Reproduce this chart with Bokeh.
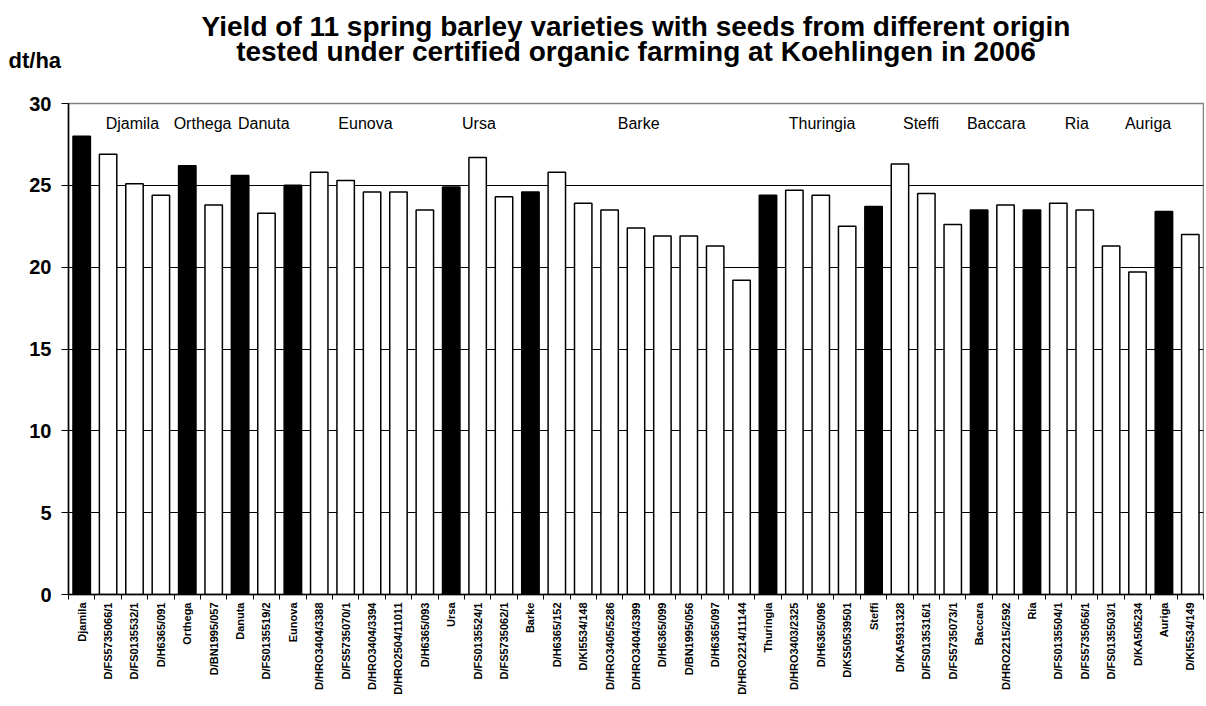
from bokeh.plotting import figure
from bokeh.models import ColumnDataSource, FixedTicker, Range1d, LabelSet, Title
from bokeh.core.properties import value
from bokeh.embed import file_html
from bokeh.resources import INLINE

categories = ["Djamila", "D/FS5735066/1", "D/FS0135532/1", "D/H6365/091", "Orthega",
              "D/BN1995/057", "Danuta", "D/FS0135519/2", "Eunova", "D/HRO3404/3388",
              "D/FS5735070/1", "D/HRO3404/3394", "D/HRO2504/11011", "D/H6365/093", "Ursa",
              "D/FS0135524/1", "D/FS5735062/1", "Barke", "D/H6365/152", "D/KI5534/148",
              "D/HRO3405/5286", "D/HRO3404/3399", "D/H6365/099", "D/BN1995/056", "D/H6365/097",
              "D/HRO2214/11144", "Thuringia", "D/HRO3403/2325", "D/H6365/096", "D/KS50539501",
              "Steffi", "D/KA5931328", "D/FS0135316/1", "D/FS5735073/1", "Baccara",
              "D/HRO2215/2592", "Ria", "D/FS0135504/1", "D/FS5735056/1", "D/FS0135503/1",
              "D/KA505234", "Auriga", "D/KI5534/149"]
yields = [28.0, 26.9, 25.1, 24.4, 26.2,
          23.8, 25.6, 23.3, 25.0, 25.8,
          25.3, 24.6, 24.6, 23.5, 24.9,
          26.7, 24.3, 24.6, 25.8, 23.9,
          23.5, 22.4, 21.9, 21.9, 21.3,
          19.2, 24.4, 24.7, 24.4, 22.5,
          23.7, 26.3, 24.5, 22.6, 23.5,
          23.8, 23.5, 23.9, 23.5, 21.3,
          19.7, 23.4, 22.0]
group_names = ["Djamila", "Orthega", "Danuta", "Eunova", "Ursa", "Barke",
               "Thuringia", "Steffi", "Baccara", "Ria", "Auriga"]
group_x = [2.42, 5.08, 7.4, 11.25, 15.55, 21.6, 28.55, 32.3, 35.15, 38.2, 40.9]
y_ticks = [0, 5, 10, 15, 20, 25, 30]
title_lines = ["Yield of 11 spring barley varieties with seeds from different origin",
               "tested under certified organic farming at Koehlingen in 2006"]
unit_label = "dt/ha"

FONT = "Liberation Sans"
n = len(categories)
xs = [i + 0.5 for i in range(n)]
fills = ["black" if not c.startswith("D/") else "white" for c in categories]

src = ColumnDataSource(dict(x=xs, y=yields, name=categories, fill=fills))

p = figure(width=1204, height=704, output_backend="svg", toolbar_location=None,
           x_range=Range1d(0, n), y_range=Range1d(0, 30),
           min_border_left=68, min_border_right=1, min_border_top=103, min_border_bottom=110)

p.vbar(x="x", top="y", width=0.66, source=src, fill_color="fill",
       line_color="black", line_width=1.5)

# axes
p.xaxis.ticker = FixedTicker(ticks=xs, minor_ticks=list(range(n + 1)))
p.xaxis.major_label_overrides = {x: c for x, c in zip(xs, categories)}
p.xaxis.major_label_orientation = 1.5707963
p.xaxis.major_tick_line_color = None
p.xaxis.minor_tick_out = 5
p.xaxis.minor_tick_in = 0
p.xaxis.minor_tick_line_color = "black"
p.xaxis.major_label_text_font = FONT
p.xaxis.major_label_text_font_style = "bold"
p.xaxis.major_label_text_font_size = "11px"
p.xaxis.major_label_text_color = "black"
p.xaxis.major_label_standoff = 2
p.xaxis.axis_line_color = "black"
p.xaxis.axis_line_width = 1.5

p.yaxis.ticker = FixedTicker(ticks=y_ticks)
p.yaxis.major_tick_out = 7
p.yaxis.major_tick_in = 0
p.yaxis.minor_tick_line_color = None
p.yaxis.major_tick_line_color = "black"
p.yaxis.major_label_text_font = FONT
p.yaxis.major_label_text_font_style = "bold"
p.yaxis.major_label_text_font_size = "20px"
p.yaxis.major_label_text_color = "black"
p.yaxis.major_label_standoff = 10
p.yaxis.axis_line_color = "black"
p.yaxis.axis_line_width = 1.5

p.xgrid.visible = False
p.ygrid.ticker = FixedTicker(ticks=y_ticks[1:-1])
p.ygrid.grid_line_color = "black"
p.ygrid.grid_line_width = 1

p.outline_line_color = "#808080"
p.outline_line_width = 1.5
p.background_fill_color = "white"
p.border_fill_color = "white"


def safe_standoff(t, s):
    try:
        t.standoff = s
    except Exception:
        t.standoff = 0


# title rows: p.title (outermost) = line 1; added rows stack from the frame outward
p.title.text = title_lines[0]
p.title.align = "center"
p.title.text_font = FONT
p.title.text_font_size = "28px"
p.title.text_font_style = "bold"
p.title.text_color = "black"
p.title.standoff = 0

spacer = Title(text=" ", align="left", text_font=FONT, text_font_size="10px",
               text_color="white", standoff=27)
p.add_layout(spacer, "above")

unit_t = Title(text=unit_label, align="left", offset=-60, text_font=FONT,
               text_font_size="22px", text_font_style="bold", text_color="black",
               vertical_align="top")
safe_standoff(unit_t, -22)
p.add_layout(unit_t, "above")

line2 = Title(text=title_lines[1], align="center", text_font=FONT,
              text_font_size="28px", text_font_style="bold", text_color="black",
              vertical_align="bottom")
safe_standoff(line2, -16)
p.add_layout(line2, "above")

# group labels
gsrc = ColumnDataSource(dict(x=group_x, y=[28.8] * len(group_x), t=group_names))
p.add_layout(LabelSet(x="x", y="y", text="t", source=gsrc, text_align="center",
                      text_baseline="middle", text_font=value(FONT), text_font_size="16px",
                      text_color="black"))

open("out.html", "w").write(file_html(p, INLINE))
